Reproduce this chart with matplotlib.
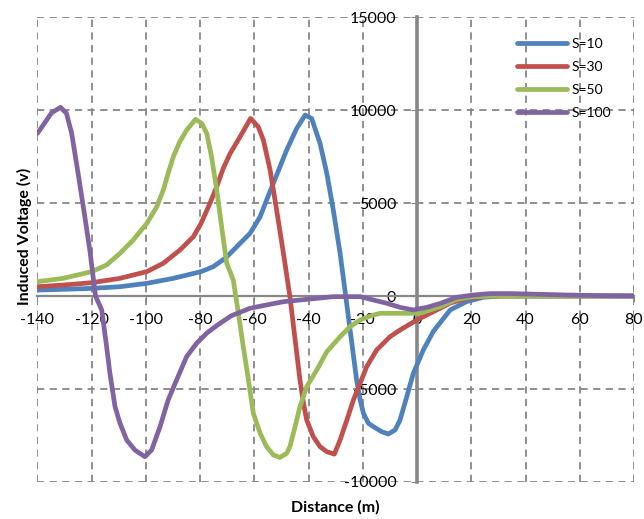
import matplotlib
matplotlib.use("Agg")
import matplotlib.pyplot as plt

plt.rcParams.update({
    "font.family": ["Lato", "DejaVu Sans"], "font.size": 11.5,
    "axes.unicode_minus": False,
})

# ---- data (distance in m, induced voltage in V)
x_s10 = [-140, -130.5, -120, -109.6, -99.7, -89.9, -79.7, -75.2, -70.5, -65.3, -61.6, -57.9,
         -55.5, -51.8, -48.1, -44.4, -41.3, -38.9, -35.8, -33.3, -30.9, -28.4, -26.6, -24.7,
         -22.3, -21, -19.8, -18, -16.1, -13, -10.6, -8.1, -6.3, -3.8, -1.4, 2.3, 6, 12.2, 18.3,
         24.4, 30.6, 40, 60, 80]
y_s10 = [320, 360, 410, 500, 680, 950, 1310, 1575, 2060, 2830, 3370, 4260,
         5160, 6500, 7850, 9010, 9730, 9550, 8210, 6600, 4620, 2300, 300, -1830,
         -4515, -5590, -6300, -6840, -7025, -7300, -7420, -7200, -6670, -5410, -4160, -2900, -1900, -750, -300,
         -70, 0, 0, 0, 0]

x_s30 = [-140, -130.5, -120, -109.6, -99.7, -93.6, -87.5, -82.5, -79.7, -76.4, -73.9, -71.5,
         -69, -65.3, -61.4, -58.6, -56.7, -54.2, -51.8, -49.3, -46.9, -43.2, -41.9, -40.7,
         -38.3, -35.8, -33.3, -30.5, -28.4, -25.9, -23.5, -21, -18.6, -14.9, -10, -6.3, -0.1,
         8.5, 12.2, 18.3, 24.4, 30, 40, 60, 80]
y_s30 = [500, 590, 715, 950, 1310, 1760, 2470, 3190, 3900, 4980, 5880, 6860,
         7650, 8560, 9550, 9100, 8390, 6770, 4620, 2300, -35, -4515, -5770, -6670,
         -7560, -8100, -8370, -8500, -7740, -6670, -5590, -4690, -3800, -2900, -2190, -1830, -1290,
         -660, -380, -125, -20, 0, 0, 0, 0]

x_s50 = [-140, -130.5, -120, -114.5, -109.6, -104.7, -99.7, -96, -93.6, -91.8, -89.9, -87.5,
         -85, -81.7, -79.4, -77.6, -75.8, -73.9, -72.1, -70.2, -67.8, -65.9, -64.1, -62.2,
         -60.4, -57.9, -55.5, -53, -50.6, -48.1, -46.9, -45, -43.2, -40.7, -37, -33.3, -28.4,
         -24.7, -21, -17.3, -13.7, -6.3, 1.1, 8.5, 14.6, 20.8, 30, 40, 60, 80]
y_s50 = [770, 950, 1310, 1670, 2290, 3010, 3900, 4800, 5700, 6600, 7490, 8300,
         8920, 9500, 9280, 8750, 7490, 5700, 3730, 1760, 860, -930, -2725, -4515,
         -6300, -7380, -8100, -8550, -8680, -8460, -8100, -7025, -5950, -4875, -3980, -2995, -2190,
         -1650, -1290, -1075, -930, -930, -930, -575, -180, -30, 0, 0, 0, 0]

x_s100 = [-140, -137.9, -134.8, -131.5, -129.3, -127.4, -125.6, -123.1, -120.7, -118.6, -116.3,
          -114.5, -113.3, -111.4, -109.6, -107.1, -104.1, -100.4, -97.9, -94.8, -91.8, -88.7,
          -85, -81.3, -77.6, -73.6, -68.5, -61.6, -55.5, -49.3, -43.2, -37, -30.9, -21, -16.1,
          -11.2, -6.3, -1.4, 3.6, 8.5, 14.6, 20.8, 26.9, 34.3, 42.8, 55, 67.5, 80]
y_s100 = [8750, 9190, 9850, 10145, 9820, 8750, 7130, 4800, 2470, 0, -753,
          -2725, -4140, -5950, -6830, -7740, -8280, -8640, -8280, -7025, -5590, -4515,
          -3260, -2540, -2000, -1560, -1060, -660, -480, -305, -215, -125, -35, -35, -215,
          -390, -610, -750, -610, -400, -70, 54, 130, 130, 100, 54, 20, 0]

series = [("S=10", x_s10, y_s10, "#4F81BD"),
          ("S=30", x_s30, y_s30, "#C0504D"),
          ("S=50", x_s50, y_s50, "#9BBB59"),
          ("S=100", x_s100, y_s100, "#8064A2")]

x_ticks = list(range(-140, 81, 20))
y_ticks = list(range(-10000, 15001, 5000))

GRID = "#878787"

fig = plt.figure(figsize=(6.44, 5.19), dpi=100)
ax = fig.add_axes([0.0582, 0.0713, 0.9263, 0.8959])

for lab, xs, ys, c in series:
    ax.plot(xs, ys, color=c, lw=3.4, label=lab, zorder=3,
            solid_joinstyle="round", solid_capstyle="round")

ax.set_xlim(-140, 80)
ax.set_ylim(-10000, 15000)
ax.set_xticks(x_ticks)
ax.set_yticks(y_ticks)
ax.grid(True, color=GRID, lw=1.3, linestyle=(0, (4, 3)))
ax.set_axisbelow(True)

for s in ("top", "right"):
    ax.spines[s].set_visible(False)
ax.spines["left"].set_position(("data", 0))
ax.spines["bottom"].set_position(("data", 0))
ax.spines["left"].set_color(GRID)
ax.spines["left"].set_linewidth(2.6)
ax.spines["bottom"].set_color(GRID)
ax.spines["bottom"].set_linewidth(1.6)
ax.tick_params(axis="x", direction="out", length=4, color=GRID, pad=8)
ax.tick_params(axis="y", direction="out", length=4, color=GRID, pad=11)

ax.set_xlabel("Distance (m)", fontweight="bold", fontsize=11.5)
ax.xaxis.set_label_coords(0.5, -0.038)
ax.set_ylabel("Induced Voltage (v)", fontweight="bold", fontsize=11.5)
ax.yaxis.set_label_coords(-0.009, 0.528)

ax.legend(loc="upper left", bbox_to_anchor=(517 / 644, 1 - 38 / 519),
          bbox_transform=fig.transFigure, frameon=False, fontsize=10,
          handlelength=3.6, handletextpad=0.3, labelspacing=0.8,
          borderpad=0, borderaxespad=0)

fig.savefig("out.png", dpi=100)
